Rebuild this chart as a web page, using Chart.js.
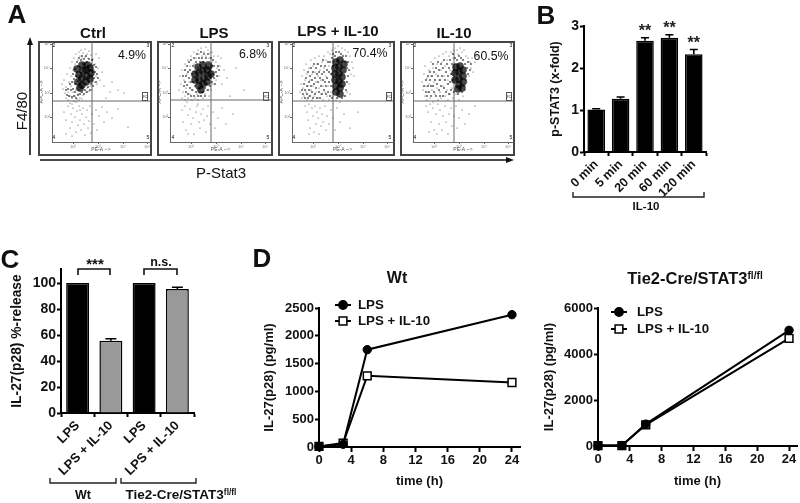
<!DOCTYPE html>
<html>
<head>
<meta charset="utf-8">
<script src="https://cdn.jsdelivr.net/npm/chart.js@4"></script>
<style>
html,body{margin:0;padding:0;background:#fff;}
#page{position:relative;width:800px;height:503px;overflow:hidden;font-family:"Liberation Sans",Arial,sans-serif;color:#111;}
canvas{position:absolute;left:0;top:0;}
svg{position:absolute;left:0;top:0;}
.t{position:absolute;white-space:nowrap;transform:translate(-50%,-50%);line-height:1;}
.b{font-weight:bold;}
.frame{position:absolute;box-sizing:border-box;border:2px solid #444;}
.gate{position:absolute;box-sizing:border-box;width:6px;height:9px;border:1px solid #555;font-size:4px;line-height:7px;text-align:center;color:#444;}
sup{font-size:62%;line-height:0;vertical-align:baseline;position:relative;top:-.45em;}
</style>
</head>
<body>
<div id="page">
  <div class="frame" style="left:38px;top:41px;width:114px;height:115px"></div>
  <div class="frame" style="left:157px;top:41px;width:116px;height:115px"></div>
  <div class="frame" style="left:278px;top:41px;width:117px;height:115px"></div>
  <div class="frame" style="left:400px;top:41px;width:115px;height:115px"></div>

  <canvas id="flowCtrl" width="800" height="503"></canvas>
  <canvas id="flowLps" width="800" height="503"></canvas>
  <canvas id="flowLpsIl10" width="800" height="503"></canvas>
  <canvas id="flowIl10" width="800" height="503"></canvas>
  <canvas id="barB" width="800" height="503"></canvas>
  <canvas id="barC" width="800" height="503"></canvas>
  <canvas id="lineWt" width="800" height="503"></canvas>
  <canvas id="lineTie2" width="800" height="503"></canvas>

  <svg width="800" height="503">
    <!-- A arrows -->
    <path d="M30 155V44M40 160H507" stroke="#111" stroke-width="1.6" fill="none"/>
    <path d="M30 37l-3 8h6zM514 160l-8-3v6z" fill="#111"/>
    <!-- B bracket -->
    <path d="M573 192v5H704v-5" stroke="#222" stroke-width="1.4" fill="none"/>
    <!-- C brackets -->
    <path d="M78 275v-6H110v6M144 275v-6H177v6" stroke="#111" stroke-width="1.6" fill="none"/>
    <path d="M50 478v5H116v-5M121 478v5H196v-5" stroke="#222" stroke-width="1.4" fill="none"/>
  </svg>

  <div class="gate" style="left:142px;top:92px">R2</div>
  <div class="gate" style="left:263px;top:92px">R2</div>
  <div class="gate" style="left:386px;top:92px">R2</div>
  <div class="gate" style="left:506px;top:92px">R2</div>

  <div class="t" style="left:54px;top:45px;font-size:5px">2</div>
  <div class="t" style="left:148px;top:45px;font-size:5px">3</div>
  <div class="t" style="left:54px;top:137px;font-size:5px">4</div>
  <div class="t" style="left:148px;top:137px;font-size:5px">5</div>
  <div class="t" style="left:173px;top:45px;font-size:5px">2</div>
  <div class="t" style="left:268px;top:45px;font-size:5px">3</div>
  <div class="t" style="left:173px;top:137px;font-size:5px">4</div>
  <div class="t" style="left:268px;top:137px;font-size:5px">5</div>
  <div class="t" style="left:294px;top:45px;font-size:5px">2</div>
  <div class="t" style="left:390px;top:45px;font-size:5px">3</div>
  <div class="t" style="left:294px;top:137px;font-size:5px">4</div>
  <div class="t" style="left:390px;top:137px;font-size:5px">5</div>
  <div class="t" style="left:415px;top:45px;font-size:5px">2</div>
  <div class="t" style="left:511px;top:45px;font-size:5px">3</div>
  <div class="t" style="left:415px;top:137px;font-size:5px">4</div>
  <div class="t" style="left:511px;top:137px;font-size:5px">5</div>

  <div class="t b" style="left:17px;top:14px;font-size:26px">A</div>
  <div class="t b" style="left:546px;top:15px;font-size:26px">B</div>
  <div class="t b" style="left:10px;top:259px;font-size:26px">C</div>
  <div class="t b" style="left:262px;top:258px;font-size:26px">D</div>

  <div class="t b" style="left:93px;top:32px;font-size:15px">Ctrl</div>
  <div class="t b" style="left:214px;top:32px;font-size:15px">LPS</div>
  <div class="t b" style="left:338px;top:30px;font-size:15px">LPS + IL-10</div>
  <div class="t b" style="left:454px;top:32px;font-size:15px">IL-10</div>
  <div class="t" style="left:132px;top:55px;font-size:12.3px">4.9%</div>
  <div class="t" style="left:253px;top:54px;font-size:12.3px">6.8%</div>
  <div class="t" style="left:370px;top:53px;font-size:12.3px">70.4%</div>
  <div class="t" style="left:491px;top:56px;font-size:12.3px">60.5%</div>
  <div class="t" style="left:21px;top:111px;font-size:15px;transform:translate(-50%,-50%) rotate(-90deg)">F4/80</div>
  <div class="t" style="left:221px;top:172px;font-size:15px">P-Stat3</div>

  <div class="t b" style="left:646px;top:207px;font-size:11.5px">IL-10</div>
  <div class="t b" style="left:95px;top:263px;font-size:15px">***</div>
  <div class="t b" style="left:161px;top:262px;font-size:12.5px">n.s.</div>
  <div class="t b" style="left:83px;top:495px;font-size:12.5px">Wt</div>
  <div class="t b" style="left:181px;top:495px;font-size:13.5px">Tie2-Cre/STAT3<sup>fl/fl</sup></div>
  <div class="t b" style="left:397px;top:278px;font-size:16px">Wt</div>
  <div class="t b" style="left:695px;top:278px;font-size:16.5px">Tie2-Cre/STAT3<sup>fl/fl</sup></div>
</div>

<script>
// Panel A, gates and dots (units are plot pixels)
const flowNames = ['Ctrl', 'LPS', 'LPS + IL-10', 'IL-10'];
const flowDecadesX = [21, 46, 71, 95];
const flowDecadesY = [25, 49, 74, 98];
const flowTickLabels = ['10²', '10³', '10⁴', '10⁵'];
const gateCtrl = [40, 41];
const gateLps = [41, 42];
const gateLpsIl10 = [41, 41];
const gateIl10 = [41, 41];

const ctrlDust = [[12,62],[14,55],[15,68],[16,50],[17,60],[18,74],[18,46],[19,56],[19,66],[20,80],[20,44],[21,50],[21,72],[22,60],[22,84],[23,46],[23,78],[24,52],[24,88],[25,43],[25,66],[26,82],[26,48],[27,90],[27,58],[28,44],[28,86],[29,50],[29,92],[30,84],[31,47],[31,89],[32,52],[33,93],[33,85],[34,50],[35,88],[35,54],[36,84],[37,91],[37,51],[38,80],[38,56],[39,87],[40,76],[40,52],[41,83],[42,60],[42,72],[43,78],[44,66],[44,88],[45,58],[46,74],[47,84],[48,62],[50,70],[52,56],[16,42],[18,39],[20,38],[22,41],[14,44],[13,49],[11,53],[10,58],[24,40],[27,42],[30,43],[58,50],[66,52],[72,49],[60,60],[54,44],[12,30],[14,22],[16,36],[18,14],[19,28],[20,20],[21,34],[23,25],[24,10],[25,31],[26,17],[27,36],[28,22],[29,12],[30,28],[31,34],[32,18],[33,7],[34,25],[35,32],[36,14],[37,21],[38,36],[39,9],[40,28],[42,18],[44,32],[45,12],[47,26],[50,35],[52,20],[55,30],[60,24],[66,33],[76,15],[14,8],[20,6],[28,32]];
const ctrlGrain = [[14,52],[15,47],[16,53],[17,46],[18,58],[19,52],[20,45],[20,60],[21,53],[21,68],[22,46],[22,63],[23,50],[23,58],[23,73],[24,66],[24,44],[25,54],[25,70],[25,80],[26,47],[26,61],[26,76],[27,52],[27,64],[27,84],[28,48],[28,58],[28,75],[29,54],[29,69],[29,82],[30,50],[30,60],[30,86],[31,54],[31,78],[32,48],[32,63],[32,83],[33,52],[33,78],[34,58],[34,86],[35,50],[35,70],[35,80],[36,55],[36,76],[37,60],[37,83],[38,52],[38,72],[39,58],[39,78],[40,66],[40,82],[41,56],[41,70],[42,64],[42,77],[43,70],[44,60],[44,75],[45,68],[46,64]];
const ctrlCore = [[26,60],[27,67],[25,73],[30,57],[30,64],[31,71],[30,77],[34,60],[35,66],[34,72],[35,77],[38,63],[39,69],[38,74],[28,54]];

const lpsDust = [[10,66],[11,58],[12,72],[13,50],[14,62],[15,78],[15,46],[16,54],[17,68],[18,82],[18,44],[19,60],[20,48],[20,76],[21,86],[22,42],[22,66],[23,52],[24,90],[24,78],[25,44],[26,84],[26,58],[27,48],[28,92],[28,42],[29,88],[30,46],[31,94],[32,86],[32,50],[33,44],[34,90],[35,48],[36,95],[36,86],[37,52],[38,92],[39,46],[39,84],[40,89],[41,52],[42,80],[42,90],[43,58],[44,86],[45,70],[46,80],[46,62],[47,74],[48,86],[49,66],[50,76],[51,84],[52,58],[54,72],[57,64],[12,44],[15,42],[9,52],[17,40],[66,74],[74,52],[60,46],[12,32],[13,20],[15,36],[16,12],[18,27],[20,33],[21,18],[23,24],[24,8],[26,30],[27,36],[29,20],[30,14],[31,28],[33,33],[34,22],[36,10],[37,26],[38,36],[40,18],[43,30],[45,14],[48,24],[52,34],[56,18],[63,28],[18,8],[28,38]];
const lpsGrain = [[13,66],[14,56],[15,72],[15,60],[16,50],[16,66],[17,76],[17,57],[18,48],[18,70],[19,64],[19,80],[20,54],[20,72],[21,60],[21,46],[21,82],[22,68],[22,52],[23,76],[23,60],[24,84],[24,46],[25,56],[25,70],[26,50],[26,80],[27,62],[27,88],[28,46],[28,74],[29,54],[29,84],[30,50],[30,80],[31,90],[31,46],[32,56],[32,84],[33,50],[33,80],[34,88],[35,46],[35,54],[36,84],[37,58],[37,80],[38,52],[38,88],[39,62],[39,80],[40,56],[40,72],[41,84],[41,64],[42,60],[42,76],[43,68],[43,82],[44,64],[44,76],[45,58],[46,70],[47,66],[48,76],[49,72]];
const lpsCore = [[25,62],[25,68],[29,56],[29,62],[29,69],[28,75],[33,58],[34,64],[33,71],[33,77],[37,60],[38,66],[37,72],[39,76],[41,68],[31,52]];

const lps10Dust = [[8,50],[9,58],[10,44],[10,66],[11,54],[12,72],[12,46],[13,62],[14,50],[14,78],[15,68],[15,42],[16,56],[17,74],[17,46],[18,62],[19,82],[19,52],[20,68],[20,42],[21,76],[21,56],[22,46],[23,70],[23,84],[24,60],[24,50],[25,78],[26,44],[26,66],[27,86],[27,54],[28,72],[29,48],[29,62],[30,80],[31,42],[31,56],[32,74],[32,86],[33,50],[34,66],[34,82],[35,46],[36,90],[36,56],[37,76],[37,42],[38,88],[39,50],[40,92],[41,46],[43,94],[44,42],[46,96],[48,40],[50,94],[52,46],[53,92],[55,50],[56,90],[57,58],[58,86],[59,68],[60,80],[61,74],[62,66],[58,48],[13,36],[15,30],[16,22],[17,38],[18,14],[20,34],[21,26],[22,10],[23,36],[24,18],[25,30],[26,24],[27,8],[28,34],[29,16],[30,28],[31,20],[33,36],[34,12],[35,26],[37,18],[39,32],[41,24],[43,12],[45,34],[48,20],[52,28],[58,14],[66,30],[17,8]];
const lps10Grain = [[10,52],[11,48],[12,58],[13,52],[13,44],[14,64],[15,56],[15,48],[16,70],[16,44],[17,60],[17,52],[18,66],[18,46],[19,74],[19,56],[20,62],[20,50],[21,70],[21,44],[22,58],[22,78],[23,64],[23,48],[24,74],[24,54],[25,68],[25,44],[26,60],[26,78],[27,50],[27,70],[28,64],[28,44],[29,76],[29,56],[30,68],[30,48],[31,62],[31,82],[32,52],[32,70],[33,60],[33,76],[34,48],[34,56],[35,72],[35,64],[36,80],[36,50],[37,60],[37,70],[38,46],[38,80],[39,56],[39,68],[40,84],[40,44],[41,76],[41,88],[42,52],[43,86],[44,90],[45,44],[47,90],[49,88],[50,44],[51,86],[53,80],[54,86],[55,74],[56,80],[56,66],[57,72],[55,60],[54,52],[53,46]];
const lps10Core = [[44,80],[48,82],[52,78],[43,74],[47,75],[51,72],[43,68],[47,68],[50,65],[43,62],[47,61],[50,58],[44,56],[48,54],[44,50],[48,48]];

const il10Dust = [[9,60],[10,52],[11,68],[12,46],[12,76],[13,56],[14,64],[14,42],[15,50],[16,72],[16,58],[17,44],[18,80],[18,66],[19,52],[20,74],[20,40],[21,60],[22,84],[22,48],[23,68],[24,54],[24,78],[25,42],[26,62],[26,86],[27,50],[28,72],[28,44],[29,80],[30,56],[30,88],[31,66],[32,46],[32,76],[33,90],[34,52],[34,82],[35,42],[35,62],[36,86],[37,48],[37,72],[38,90],[39,54],[40,84],[40,44],[41,92],[42,78],[43,48],[44,92],[45,88],[46,42],[47,94],[49,90],[50,46],[51,92],[52,52],[53,86],[54,60],[55,84],[56,66],[57,80],[58,74],[59,84],[60,70],[62,80],[64,86],[13,36],[15,30],[17,38],[18,20],[20,34],[21,12],[23,28],[25,38],[26,18],[27,32],[29,12],[30,26],[32,36],[33,20],[35,8],[36,28],[38,34],[39,16],[41,26],[43,36],[44,14],[46,24],[49,32],[52,18],[56,28],[62,36],[24,8],[16,10]];
const il10Grain = [[11,56],[13,62],[13,50],[14,46],[15,66],[15,56],[16,50],[17,62],[17,70],[18,56],[18,46],[19,66],[20,56],[20,78],[21,50],[21,70],[22,62],[23,46],[23,74],[24,58],[25,66],[25,80],[26,52],[26,72],[27,62],[27,46],[28,56],[28,78],[29,66],[30,74],[30,46],[31,54],[31,82],[32,62],[33,70],[33,50],[34,78],[35,58],[35,66],[36,74],[36,48],[37,60],[37,82],[38,68],[38,52],[39,78],[40,62],[40,88],[41,50],[41,72],[42,84],[43,56],[44,82],[45,48],[46,86],[48,84],[49,50],[50,82],[51,56],[52,78],[53,62],[54,74],[55,68],[55,80],[57,72],[58,78]];
const il10Core = [[42,62],[42,69],[43,75],[46,57],[46,63],[46,70],[47,76],[50,60],[50,66],[50,72],[45,53],[49,54]];

// Panel B
const bCategories = ['0 min', '5 min', '20 min', '60 min', '120 min'];
const bValues = [1.01, 1.27, 2.65, 2.72, 2.33];
const bErrors = [0.02, 0.04, 0.07, 0.07, 0.11];
const bStars = ['', '', '**', '**', '**'];

// Panel C
const cCategories = ['LPS', 'LPS + IL-10', 'LPS', 'LPS + IL-10'];
const cValues = [100, 55.5, 100, 95.5];
const cErrors = [0, 1.6, 0, 1.2];
const cColors = ['#000000', '#999999', '#000000', '#999999'];

// Panel D
const dTimes = [0, 3, 6, 24];
const wtLps = [10, 50, 1750, 2380];
const wtLpsIl10 = [10, 70, 1280, 1160];
const tieLps = [20, 20, 950, 5030];
const tieLpsIl10 = [20, 20, 920, 4680];

Chart.defaults.font.family = '"Liberation Sans", Arial, sans-serif';
Chart.defaults.color = '#111';
Chart.defaults.animation = false;

// fixes the plot rectangle on the 800x503 canvas, titles land on yTitleX / xTitleY
function layoutFor(box) {
    const yLine = box.yTitleSize * 1.2;
    const xLine = (box.xTitleSize || 0) * 1.2;
    const left = box.yTitleX - yLine / 2;
    const bottom = box.xTitleY ? box.xTitleY + xLine / 2 : box.bottomEdge;
    return {
        layout: { autoPadding: false, padding: { left: left, top: box.top, right: 800 - box.right, bottom: 503 - bottom } },
        yFit: (s) => { s.width = box.left - left; },
        xFit: (s) => { s.height = bottom - box.bottom; }
    };
}

const errorBars = {
    id: 'errorBars',
    afterDatasetsDraw(chart, args, opts) {
        const ctx = chart.ctx;
        const y = chart.scales.y;
        const meta = chart.getDatasetMeta(0);
        ctx.save();
        ctx.strokeStyle = '#000';
        ctx.lineWidth = 1.6;
        opts.errors.forEach((err, i) => {
            if (!err) return;
            const v = chart.data.datasets[0].data[i];
            const x = meta.data[i].x;
            const top = y.getPixelForValue(v + err);
            ctx.beginPath();
            ctx.moveTo(x, y.getPixelForValue(v));
            ctx.lineTo(x, top);
            ctx.moveTo(x - opts.cap, top);
            ctx.lineTo(x + opts.cap, top);
            ctx.stroke();
        });
        ctx.restore();
    }
};

const starLabels = {
    id: 'starLabels',
    afterDatasetsDraw(chart, args, opts) {
        if (!opts.labels) return;
        const ctx = chart.ctx;
        const meta = chart.getDatasetMeta(0);
        ctx.save();
        ctx.font = 'bold 16px "Liberation Sans"';
        ctx.textAlign = 'center';
        ctx.textBaseline = 'middle';
        ctx.fillStyle = '#222';
        opts.labels.forEach((s, i) => {
            const v = chart.data.datasets[0].data[i] + opts.errors[i];
            ctx.fillText(s, meta.data[i].x, chart.scales.y.getPixelForValue(v) - 6);
        });
        ctx.restore();
    }
};

const sideLegend = {
    id: 'sideLegend',
    afterDraw(chart, args, opts) {
        const ctx = chart.ctx;
        ctx.save();
        chart.data.datasets.forEach((ds, i) => {
            const y = opts.y[i];
            ctx.strokeStyle = '#000';
            ctx.lineWidth = 2;
            ctx.beginPath();
            ctx.moveTo(opts.x - 8, y);
            ctx.lineTo(opts.x + 8, y);
            ctx.stroke();
            ctx.fillStyle = ds.pointBackgroundColor;
            ctx.lineWidth = 1.5;
            Chart.helpers.drawPoint(ctx, { pointStyle: ds.pointStyle, radius: ds.pointRadius, borderWidth: 1.5 }, opts.x, y);
            ctx.fillStyle = '#111';
            ctx.font = 'bold 13.3px "Liberation Sans"';
            ctx.textAlign = 'left';
            ctx.textBaseline = 'middle';
            ctx.fillText(ds.label, opts.textX, y + 0.5);
        });
        ctx.restore();
    }
};

function flowChart(id, name, left, right, gate, dust, grain, core) {
    const box = { left: left, right: right, top: 42, bottom: 142, yTitleX: left - 10, yTitleSize: 5, xTitleY: 150, xTitleSize: 5 };
    const fit = layoutFor(box);
    const w = right - left;
    const dots = (label, data, r, color) => ({ label: label, data: data, showLine: false, pointRadius: r, pointBorderWidth: 0, pointBackgroundColor: color, clip: false });
    const gateLine = (data) => ({ data: data, showLine: true, pointRadius: 0, borderColor: '#666', borderWidth: 1 });
    return new Chart(document.getElementById(id), {
        type: 'scatter',
        data: { datasets: [
            dots(name + ' grain', grain, 1.1, 'rgba(0,0,0,0.6)'),
            dots(name + ' core', core, 3.8, 'rgba(0,0,0,0.72)'),
            dots(name, dust, 0.6, '#444'),
            gateLine([[gate[0], 0], [gate[0], 100]]),
            gateLine([[0, gate[1]], [w, gate[1]]])
        ] },
        options: {
            responsive: false,
            layout: fit.layout,
            plugins: { legend: { display: false }, tooltip: { enabled: false } },
            scales: {
                x: {
                    type: 'linear', min: 0, max: w, afterFit: fit.xFit,
                    afterBuildTicks: (s) => { s.ticks = flowDecadesX.map((v) => ({ value: v })); },
                    border: { color: '#666', width: 1 },
                    grid: { drawOnChartArea: false, tickLength: 2, color: '#666', tickWidth: 1 },
                    ticks: { maxRotation: 0, padding: 0, font: { size: 4 }, color: '#777', callback: (v) => flowTickLabels[flowDecadesX.indexOf(v)] },
                    title: { display: true, text: 'PE-A -->', font: { size: 5 }, color: '#555', padding: 0 }
                },
                y: {
                    type: 'linear', min: 0, max: 100, afterFit: fit.yFit,
                    afterBuildTicks: (s) => { s.ticks = flowDecadesY.map((v) => ({ value: v })); },
                    border: { color: '#666', width: 1 },
                    grid: { drawOnChartArea: false, tickLength: 2, color: '#666', tickWidth: 1 },
                    ticks: { padding: 0, font: { size: 4 }, color: '#777', callback: (v) => flowTickLabels[flowDecadesY.indexOf(v)] },
                    title: { display: true, text: 'APC-A -->', font: { size: 5 }, color: '#555', padding: 0 }
                }
            }
        }
    });
}

flowChart('flowCtrl', flowNames[0], 52, 150, gateCtrl, ctrlDust, ctrlGrain, ctrlCore);
flowChart('flowLps', flowNames[1], 170, 271, gateLps, lpsDust, lpsGrain, lpsCore);
flowChart('flowLpsIl10', flowNames[2], 292, 393, gateLpsIl10, lps10Dust, lps10Grain, lps10Core);
flowChart('flowIl10', flowNames[3], 413, 513, gateIl10, il10Dust, il10Grain, il10Core);

function barChart(id, box, cats, values, colors, errors, cap, barPct, stars, yMax, yStep, yTitle, tickSize, catSize) {
    const fit = layoutFor(box);
    return new Chart(document.getElementById(id), {
        type: 'bar',
        data: { labels: cats, datasets: [{ data: values, backgroundColor: colors, borderColor: '#000', borderWidth: 1.5, barPercentage: barPct, categoryPercentage: 1 }] },
        plugins: [errorBars, starLabels],
        options: {
            responsive: false,
            layout: fit.layout,
            plugins: { legend: { display: false }, tooltip: { enabled: false },
                errorBars: { errors: errors, cap: cap }, starLabels: { labels: stars, errors: errors } },
            scales: {
                x: {
                    afterFit: fit.xFit,
                    border: { color: '#000', width: 2 },
                    grid: { drawOnChartArea: false, tickLength: 4, color: '#000', tickWidth: 2 },
                    ticks: { minRotation: 45, maxRotation: 45, padding: 1, font: { size: catSize, weight: 'bold' }, autoSkip: false }
                },
                y: {
                    min: 0, max: yMax, afterFit: fit.yFit,
                    border: { color: '#000', width: 2 },
                    grid: { drawOnChartArea: false, tickLength: 4, color: '#000', tickWidth: 2 },
                    ticks: { stepSize: yStep, includeBounds: false, padding: 1, font: { size: tickSize, weight: 'bold' } },
                    title: { display: true, text: yTitle, font: { size: box.yTitleSize, weight: 'bold' }, padding: 0 }
                }
            }
        }
    });
}

barChart('barB', { left: 584, right: 706, top: 26, bottom: 152, yTitleX: 556, yTitleSize: 12.5, bottomEdge: 200 },
    bCategories, bValues, '#000000', bErrors, 4, 0.72, bStars, 3, 1, 'p-STAT3 (x-fold)', 14, 12.5);
barChart('barC', { left: 61, right: 194, top: 269, bottom: 413, yTitleX: 17, yTitleSize: 13.8, bottomEdge: 480 },
    cCategories, cValues, cColors, cErrors, 5.5, 0.69, null, 110.8, 20, 'IL-27(p28) %-release', 14, 13);

function lineChart(id, box, lps, lpsIl10, yMax, yStep, legendX, legendY, textX) {
    const fit = layoutFor(box);
    return new Chart(document.getElementById(id), {
        type: 'line',
        data: { labels: dTimes, datasets: [
            { label: 'LPS', data: dTimes.map((t, i) => ({ x: t, y: lps[i] })), borderColor: '#000', borderWidth: 2, tension: 0, clip: false,
              pointStyle: 'circle', pointRadius: 4.2, pointBackgroundColor: '#000', pointBorderColor: '#000', pointBorderWidth: 1 },
            { label: 'LPS + IL-10', data: dTimes.map((t, i) => ({ x: t, y: lpsIl10[i] })), borderColor: '#000', borderWidth: 2, tension: 0, clip: false,
              pointStyle: 'rect', pointRadius: 5.5, pointBackgroundColor: '#fff', pointBorderColor: '#000', pointBorderWidth: 1.5 }
        ] },
        plugins: [sideLegend],
        options: {
            responsive: false,
            layout: fit.layout,
            plugins: { legend: { display: false }, tooltip: { enabled: false }, sideLegend: { x: legendX, y: legendY, textX: textX } },
            scales: {
                x: {
                    type: 'linear', min: 0, max: 25, afterFit: fit.xFit,
                    border: { color: '#000', width: 2 },
                    grid: { drawOnChartArea: false, tickLength: 5, color: '#000', tickWidth: 2 },
                    ticks: { stepSize: 4, includeBounds: false, maxRotation: 0, padding: 1, font: { size: 13, weight: 'bold' }, callback: (v) => String(v) },
                    title: { display: true, text: 'time (h)', font: { size: 13, weight: 'bold' }, padding: 0 }
                },
                y: {
                    min: 0, max: yMax, afterFit: fit.yFit,
                    border: { color: '#000', width: 2 },
                    grid: { drawOnChartArea: false, tickLength: 4, color: '#000', tickWidth: 2 },
                    ticks: { stepSize: yStep, padding: 1, font: { size: 13, weight: 'bold' }, callback: (v) => String(v) },
                    title: { display: true, text: 'IL-27(p28) (pg/ml)', font: { size: box.yTitleSize, weight: 'bold' }, padding: 0 }
                }
            }
        }
    });
}

lineChart('lineWt', { left: 319, right: 520, top: 308, bottom: 447, yTitleX: 269, yTitleSize: 13, xTitleY: 481, xTitleSize: 13 },
    wtLps, wtLpsIl10, 2500, 500, 343, [305, 321], 358);
lineChart('lineTie2', { left: 598, right: 797, top: 308, bottom: 446, yTitleX: 549, yTitleSize: 13, xTitleY: 481, xTitleSize: 13 },
    tieLps, tieLpsIl10, 6000, 2000, 619, [312, 329], 637);
</script>
</body>
</html>
